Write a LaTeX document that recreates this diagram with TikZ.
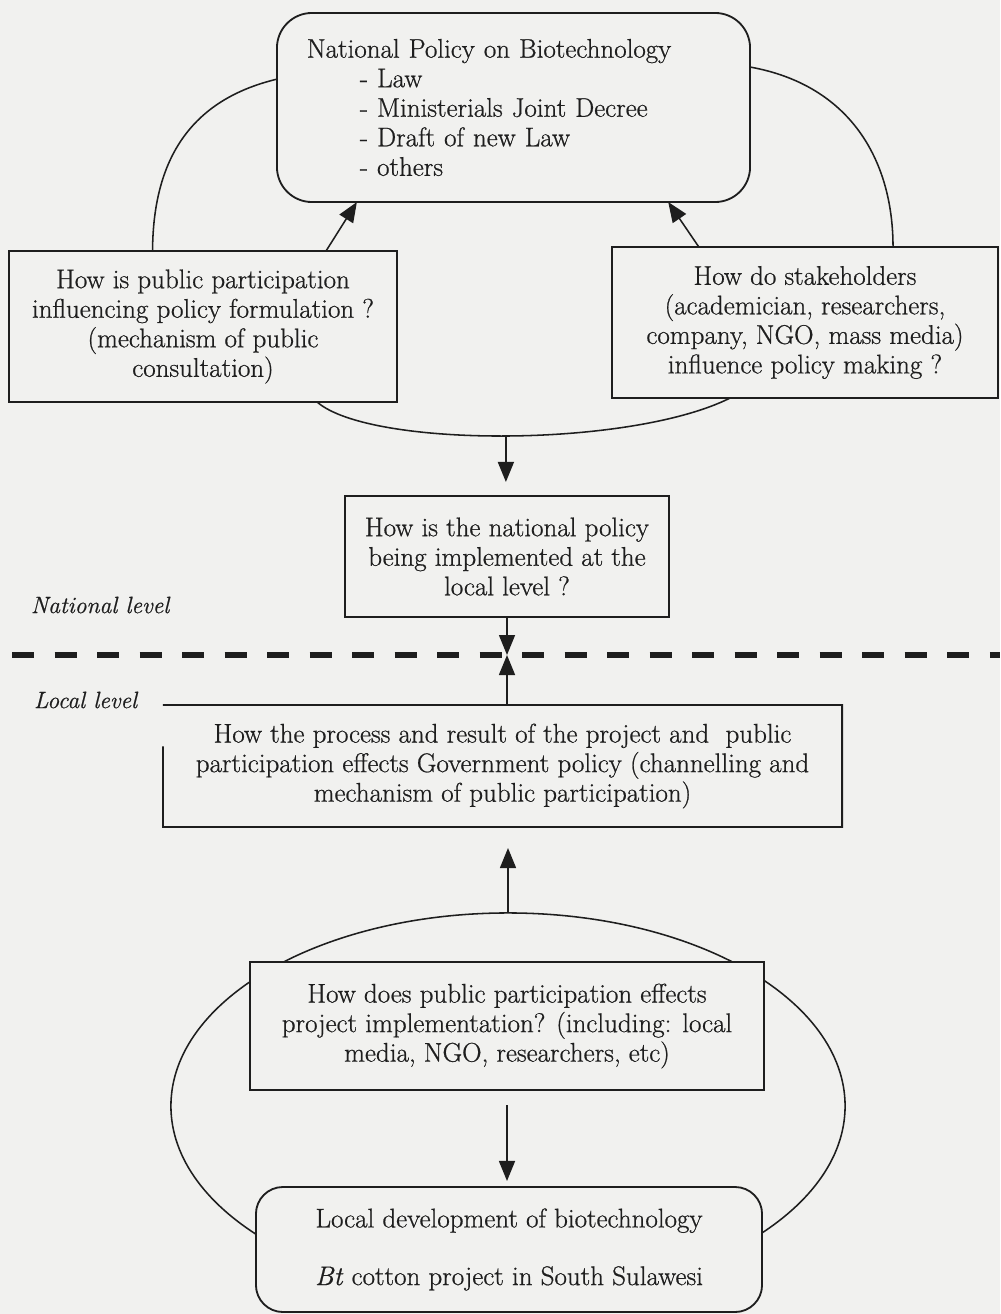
\documentclass[tikz,border=0pt]{standalone}
\usepackage{fontspec}
\setmainfont{Latin Modern Roman}[FakeBold=0.7]
\usetikzlibrary{shapes.geometric,arrows.meta,calc}
\definecolor{paper}{RGB}{241,241,239}
\definecolor{ink}{RGB}{30,30,30}
\begin{document}
\begin{tikzpicture}[x=0.025cm,y=-0.025cm,
  every node/.style={font=\fontsize{19.2}{21}\selectfont, text=ink},
  qbox/.style={draw=ink, line width=1.3pt, fill=paper, align=center, inner sep=0pt, outer sep=0pt},
  link/.style={draw=ink, line width=1.1pt},
  arr/.style={link, -{Triangle[length=0.5cm,width=0.4cm]}},
  lvl/.style={font=\fontsize{16.8}{19}\selectfont\itshape, anchor=west}]
\useasboundingbox (0,0) rectangle (1000,1314);
\fill[paper] (0,0) rectangle (1000,1314);
\clip (0,0) rectangle (1000,1314);

% loop behind the two lower boxes
\node[ellipse, draw=ink, line width=1.1pt, minimum width=16.85cm, minimum height=9.65cm, inner sep=0pt, outer sep=0pt] (loop) at (508,1106) {};

% boxes
\node[qbox, rounded corners=0.875cm, minimum width=11.825cm, minimum height=4.725cm, text width=10.325cm, align=left] (pol) at (513.5,107.5)
  {National Policy on Biotechnology\\
   \hspace*{1.325cm}- Law\\
   \hspace*{1.325cm}- Ministerials Joint Decree\\
   \hspace*{1.325cm}- Draft of new Law\\
   \hspace*{1.325cm}- others};
\node[qbox, minimum width=9.7cm, minimum height=3.775cm] (b2) at (203,326.5)
  {How is public participation\\ influencing policy formulation ?\\ (mechanism of public\\ consultation)};
\node[qbox, minimum width=9.65cm, minimum height=3.775cm] (b3) at (805,322.5)
  {How do stakeholders\\ (academician, researchers,\\ company, NGO, mass media)\\ influence policy making ?};
\node[qbox, minimum width=8.1cm, minimum height=3.025cm] (b4) at (507,556.5)
  {How is the national policy\\ being implemented at the\\ local level ?};
\node[qbox, draw=none, minimum width=16.975cm, minimum height=3.05cm] (b5) at (502.5,766)
  {How the process and result of the project and~ public\\ participation effects Government policy (channelling and\\ mechanism of public participation)};
\draw[ink, line width=1.3pt] ($(b5.south west)!0.66!(b5.north west)$) -- (b5.south west) -- (b5.south east) -- (b5.north east) -- (b5.north west);
\node[qbox, minimum width=12.85cm, minimum height=3.2cm] (b6) at (507,1026)
  {How does public participation effects\\ project implementation? (including: local\\ media, NGO, researchers, etc)};
\node[qbox, rounded corners=0.675cm, minimum width=12.65cm, minimum height=3.125cm] (b7) at (509,1249.5)
  {Local development of biotechnology\\[20pt] \textit{Bt} cotton project in South Sulawesi};

% level labels
\node[lvl] (nat) at (26,605) {National level};
\node[lvl] (loc) at (29,700) {Local level};

% top loop curves
\draw[link] ($(pol.north west)!0.35!(pol.south west)$) .. controls (190,100) and (153,160) .. ($(b2.north west)!0.37!(b2.north east)$);
\draw[link] ($(pol.north east)!0.286!(pol.south east)$) .. controls (850,85) and (893,160) .. ($(b3.north west)!0.728!(b3.north east)$);
\draw[arr] ($(b2.north west)!0.817!(b2.north east)$) -- ($(pol.south west)!0.169!(pol.south east)$);
\draw[arr] ($(b3.north west)!0.225!(b3.north east)$) -- ($(pol.south west)!0.827!(pol.south east)$);

% bottom arc joining the two questions
\draw[link] ($(b2.south west)!0.794!(b2.south east)$) .. controls (370,448) and (630,448) .. ($(b3.south west)!0.306!(b3.south east)$) coordinate[pos=0.5] (arcmid);
\draw[arr, shorten >=0.35cm] (arcmid) -- (arcmid |- b4.north);

% level divider
\coordinate (cross) at (507,655);
\draw[ink, line width=3.6pt, dash pattern=on 0.55cm off 0.5125cm] (12,655) -- (1000,655);
\draw[arr] (b4.south) -- (b4.south |- cross);
\draw[arr] (b4.south |- b5.north) -- (b4.south |- cross);

% lower part
\draw[arr, shorten >=0.525cm] (loop.north) -- (loop.north |- b5.south);
\draw[arr, shorten <=0.375cm, shorten >=0.15cm] (b6.south) -- (b6.south |- b7.north);
\end{tikzpicture}
\end{document}
